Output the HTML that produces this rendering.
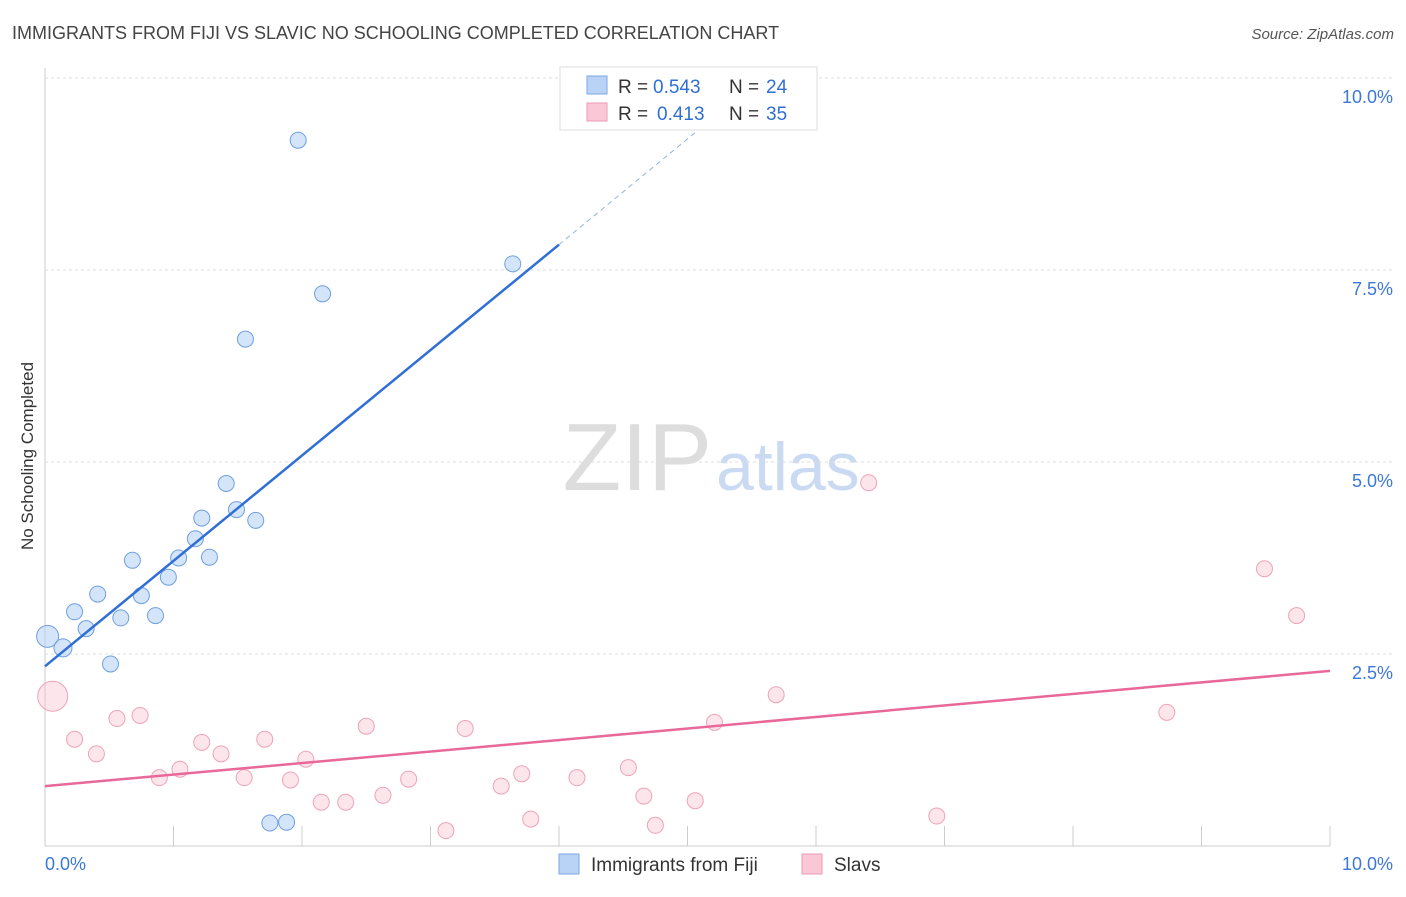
<!DOCTYPE html>
<html><head><meta charset="utf-8"><style>
body{margin:0;background:#fff;font-family:"Liberation Sans",sans-serif}
svg text{font-family:"Liberation Sans",sans-serif}
</style></head><body>
<svg id="chart" width="1406" height="892">
<text x="12" y="39" font-size="18" fill="#444">IMMIGRANTS FROM FIJI VS SLAVIC NO SCHOOLING COMPLETED CORRELATION CHART</text>
<text x="1394" y="39" font-size="15" fill="#555" font-style="italic" text-anchor="end">Source: ZipAtlas.com</text>
<text x="33" y="456" font-size="17" fill="#333" transform="rotate(-90 33 456)" text-anchor="middle">No Schooling Completed</text>
<text x="712" y="490" font-size="96" fill="#ddd" font-family="Liberation Serif" text-anchor="end">ZIP</text>
<text x="716" y="490" font-size="68" fill="#c9daf2">atlas</text>
<g id="grid"></g><g id="marks"></g>
<g>
<rect x="560" y="67" width="257" height="63" fill="#fff" stroke="#ddd"/>
<rect x="587" y="76" width="20" height="18" fill="#b8d3f5" stroke="#7aa9e6"/>
<rect x="587" y="103" width="20" height="18" fill="#f9c7d5" stroke="#ee9ab4"/>
<text x="618" y="93" font-size="19" fill="#333">R =</text>
<text x="653" y="93" font-size="19" fill="#2f6fd6">0.543</text>
<text x="729" y="93" font-size="19" fill="#333">N =</text>
<text x="766" y="93" font-size="19" fill="#2f6fd6">24</text>
<text x="618" y="120" font-size="19" fill="#333">R =</text>
<text x="657" y="120" font-size="19" fill="#2f6fd6">0.413</text>
<text x="729" y="120" font-size="19" fill="#333">N =</text>
<text x="766" y="120" font-size="19" fill="#2f6fd6">35</text>
</g>
<g>
<rect x="559" y="854" width="20" height="20" fill="#b8d3f5" stroke="#7aa9e6"/>
<text x="591" y="871" font-size="19" fill="#333">Immigrants from Fiji</text>
<rect x="802" y="854" width="20" height="20" fill="#f9c7d5" stroke="#ee9ab4"/>
<text x="834" y="871" font-size="19" fill="#333">Slavs</text>
</g>
</svg>
<script>
const yTicks=[2.5,5,7.5,10];
const yTickLabels=["2.5%","5.0%","7.5%","10.0%"];
const fijiX=[0.02,0.14,0.23,0.32,0.41,0.51,0.59,0.68,0.75,0.86,0.96,1.04,1.17,1.22,1.28,1.41,1.49,1.64,1.56,1.97,2.16,3.64,1.75,1.88];
const fijiY=[2.73,2.58,3.05,2.83,3.28,2.37,2.97,3.72,3.26,3.0,3.5,3.75,4.0,4.27,3.76,4.72,4.38,4.24,6.6,9.19,7.19,7.58,0.3,0.31];
const fijiR=[11,9,8,8,8,8,8,8,8,8,8,8,8,8,8,8,8,8,8,8,8,8,8,8];
const slavX=[0.06,0.23,0.4,0.56,0.74,0.89,1.05,1.22,1.37,1.55,1.71,1.91,2.03,2.15,2.34,2.5,2.63,2.83,3.12,3.27,3.55,3.71,3.78,4.14,4.54,4.66,4.75,5.06,5.21,5.69,6.41,6.94,8.73,9.49,9.74];
const slavY=[1.95,1.39,1.2,1.66,1.7,0.89,1.0,1.35,1.2,0.89,1.39,0.86,1.13,0.57,0.57,1.56,0.66,0.87,0.2,1.53,0.78,0.94,0.35,0.89,1.02,0.65,0.27,0.59,1.61,1.97,4.73,0.39,1.74,3.61,3.0];
const slavR=[15,8,8,8,8,8,8,8,8,8,8,8,8,8,8,8,8,8,8,8,8,8,8,8,8,8,8,8,8,8,8,8,8,8,8];
const X=v=>45+v*128.5, Y=v=>846-v*76.8;
const NS="http://www.w3.org/2000/svg";
function mk(p,t,a){const e=document.createElementNS(NS,t);for(const k in a)e.setAttribute(k,a[k]);p.appendChild(e);return e;}
const g=document.getElementById('grid'), m=document.getElementById('marks');
let ax=mk(g,'line',{x1:45,y1:68,x2:45,y2:846,stroke:'#ccc'});


let bx=mk(g,'line',{x1:45,y1:846,x2:1330,y2:846,stroke:'#ccc'});


yTicks.forEach((t,i)=>{
 const l=mk(g,'line',{x1:45,y1:Y(t),x2:1395,y2:Y(t),stroke:'#ddd','stroke-dasharray':'3,3'});
 
 
 const tx=mk(g,'text',{x:1393,y:Y(t)+25,'font-size':18,fill:'#3b78d8','text-anchor':'end'});tx.textContent=yTickLabels[i];
 
 
});
for(let i=1;i<=10;i++){const l=mk(g,'line',{x1:X(i),y1:826,x2:X(i),y2:846,stroke:'#ccc'});
 
 }
[[0,"0.0%",'start',45],[10,"10.0%",'end',1393]].forEach(a=>{const t=mk(g,'text',{x:a[3],y:870,'font-size':18,fill:'#3b78d8','text-anchor':a[2]});t.textContent=a[1];
 
 });
slavX.forEach((x,i)=>{const c=mk(m,'circle',{cx:X(x),cy:Y(slavY[i]),r:slavR[i],fill:'rgba(248,190,206,0.4)',stroke:'#eea3ba'});
 
 });
fijiX.forEach((x,i)=>{const c=mk(m,'circle',{cx:X(x),cy:Y(fijiY[i]),r:fijiR[i],fill:'rgba(184,211,245,0.6)',stroke:'#6f9fe0'});
 
 });
let bl=mk(m,'line',{x1:X(0),y1:Y(2.34),x2:X(4),y2:Y(7.83),stroke:'#2f6fd6','stroke-width':2.5});


let bd=mk(m,'line',{x1:X(4),y1:Y(7.83),x2:X(5.3),y2:Y(9.62),stroke:'#8fb3e8','stroke-width':1,'stroke-dasharray':'5,4'});


let pl=mk(m,'line',{x1:X(0),y1:Y(0.78),x2:X(10),y2:Y(2.28),stroke:'#e8689a','stroke-width':2.5});


</script>
</body></html>
